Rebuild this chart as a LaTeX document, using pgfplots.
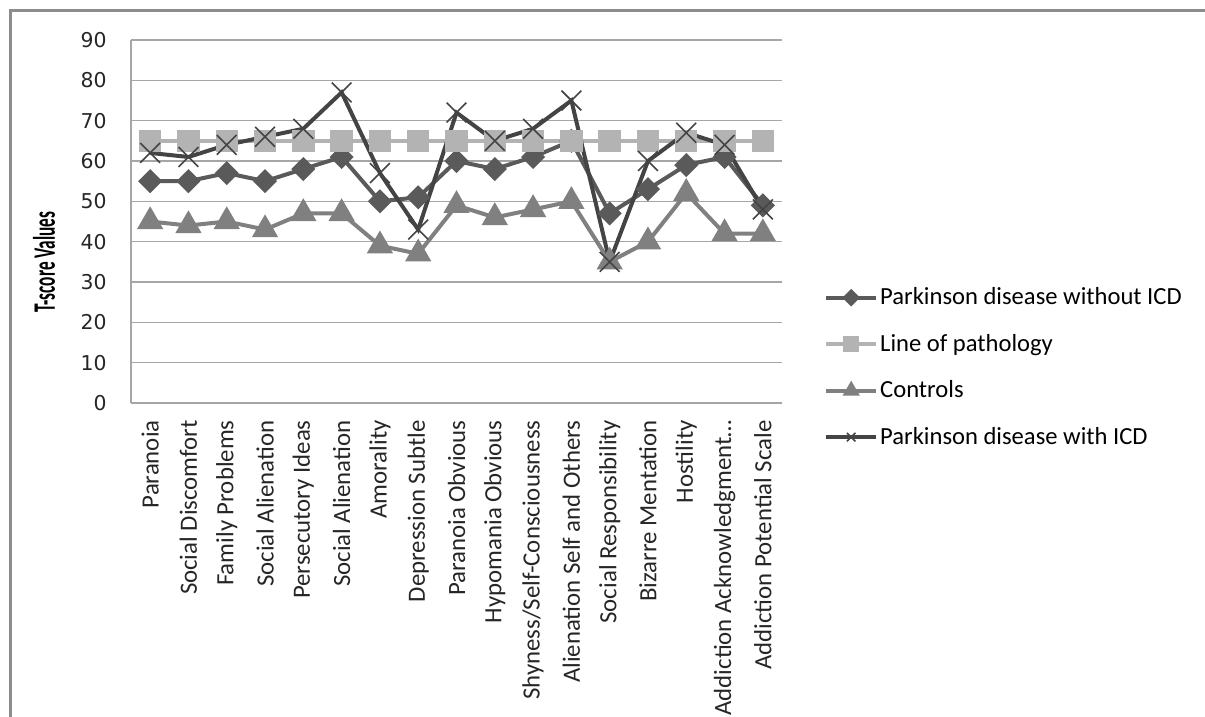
\documentclass[border=0pt]{standalone}
\usepackage{fontspec}
\setmainfont{Carlito}
\newfontfamily\tickfont{DejaVu Sans}
\usepackage{graphicx}
\usepackage{pgfplots}
\usepackage{pgfplotstable}
\pgfplotsset{compat=1.18}

\definecolor{noicd}{HTML}{5A5A5A}
\definecolor{patho}{HTML}{B3B3B3}
\definecolor{ctrl}{HTML}{808080}
\definecolor{icd}{HTML}{444444}
\definecolor{gridgray}{HTML}{A6A6A6}
\definecolor{framegray}{HTML}{8C8C8C}

% MMPI-2 scale T-scores per group
\pgfplotstableread{
idx noicd patho ctrl icd
0   55    65    45   62
1   55    65    44   61
2   57    65    45   64
3   55    65    43   66
4   58    65    47   68
5   61    65    47   77
6   50    65    39   57
7   51    65    37   43
8   60    65    49   72
9   58    65    46   65
10  61    65    48   68
11  65    65    50   75
12  47    65    35   35
13  53    65    40   60
14  59    65    52   67
15  61    65    42   64
16  49    65    42   48
}\scores

\begin{document}
\begin{tikzpicture}[x=1pt,y=1pt]
\useasboundingbox (0,0) rectangle (602.5,358.5);
\draw[framegray, line width=1.2pt] (5.25,-5) -- (5.25,353.25) -- (610,353.25);
\begin{axis}[
  at={(65.5pt,157pt)}, anchor=south west,
  scale only axis, width=325.5pt, height=181.5pt,
  clip=false,
  xmin=-0.5, xmax=16.5, ymin=0, ymax=90,
  xtick={0,...,16},
  ytick={0,10,...,90},
  xticklabels={Paranoia, Social Discomfort, Family Problems, Social Alienation,
    Persecutory Ideas, Social Alienation, Amorality, Depression Subtle,
    Paranoia Obvious, Hypomania Obvious, Shyness/Self-Consciousness,
    Alienation Self and Others, Social Responsibility, Bizarre Mentation,
    Hostility, Addiction Acknowledgment…, Addiction Potential Scale},
  xticklabel style={rotate=90, anchor=east, inner xsep=8.5pt, inner ysep=0pt,
    font=\fontsize{12.4}{14}\selectfont, text=black!85},
  yticklabel style={anchor=east, inner xsep=12pt, inner ysep=0pt,
    font=\tickfont\fontsize{10.2}{12}\selectfont, text=black!85},
  /pgf/number format/assume math mode=true,
  axis x line*=bottom, axis y line*=left,
  axis line style={gridgray, line width=0.8pt, -},
  tick style={draw=none},
  ymajorgrids, grid style={gridgray, line width=0.7pt},
  ylabel={\scalebox{0.72}[1.3]{\bfseries T-score Values}},
  ylabel style={at={(axis description cs:-0.1336,0.388)}, anchor=center,
    font=\fontsize{12}{14}\selectfont},
  legend style={at={(1.055,0.098)}, anchor=west, draw=none, fill=none,
    font=\fontsize{12.3}{14}\selectfont, row sep=13.2pt,
    nodes={inner xsep=1pt, inner ysep=0pt}},
  legend cell align=left,
  legend image code/.code={\draw[mark repeat=2, mark phase=2, #1]
    plot coordinates {(0pt,0pt) (12.5pt,0pt) (25pt,0pt)};},
  every legend image post/.style={mark size=3pt},
]
\addplot[color=noicd, line width=2pt, mark=diamond*, mark size=4.6pt,
  mark options={solid, fill=noicd, xscale=1.333}]
  table[x=idx, y=noicd] {\scores};
\addlegendentry{Parkinson disease without ICD}
\addplot[color=patho, line width=2pt, mark=square*, mark size=4.6pt,
  mark options={solid, fill=patho}]
  table[x=idx, y=patho] {\scores};
\addlegendentry{Line of pathology}
\addplot[color=ctrl, line width=2pt, mark=triangle*, mark size=5.6pt,
  mark options={solid, fill=ctrl}]
  table[x=idx, y=ctrl] {\scores};
\addlegendentry{Controls}
\addplot[color=icd, line width=2pt, mark=x, mark size=7pt,
  mark options={solid, line width=0.8pt}]
  table[x=idx, y=icd] {\scores};
\addlegendentry{Parkinson disease with ICD}
\end{axis}
\end{tikzpicture}
\end{document}
